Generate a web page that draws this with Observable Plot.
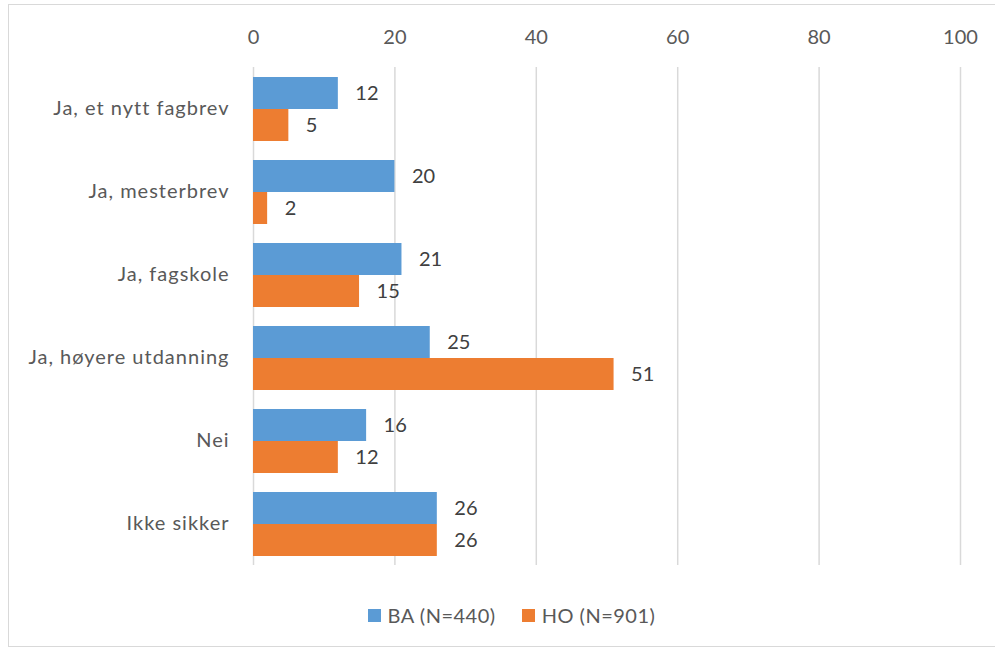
<!DOCTYPE html>
<html>
<head>
<meta charset="utf-8">
<script src="https://cdn.jsdelivr.net/npm/d3@7"></script>
<script src="https://cdn.jsdelivr.net/npm/@observablehq/plot@0.6"></script>
<style>
  html, body { margin: 0; padding: 0; background: #fff; }
  body { width: 995px; height: 651px; position: relative; overflow: hidden; font-family: Lato, sans-serif; }
  #frame { position: absolute; left: 8px; top: 4px; width: 1010px; height: 643px; border: 1.5px solid #d9d9d9; box-sizing: border-box; }
  #chart { position: absolute; left: 0; top: 0; }
  #chart [aria-label^="fy-axis"] text { letter-spacing: 1px; }
  #legend { position: absolute; left: 0; top: 595px; width: 995px; height: 40px; display: flex; justify-content: center; align-items: center; gap: 26px; font-size: 20px; letter-spacing: 0.5px; color: #595959; padding-left: 28px; box-sizing: border-box; }
  .item { display: flex; align-items: center; gap: 7px; }
  .sw { width: 13px; height: 13px; display: inline-block; }
</style>
</head>
<body>
<div id="frame"></div>
<div id="chart"></div>
<div id="legend"></div>
<script>
const categories = ["Ja, et nytt fagbrev", "Ja, mesterbrev", "Ja, fagskole", "Ja, høyere utdanning", "Nei", "Ikke sikker"];
const series = ["BA (N=440)", "HO (N=901)"];
const baValues = [12, 20, 21, 25, 16, 26];
const hoValues = [5, 2, 15, 51, 12, 26];
const xTicks = [0, 20, 40, 60, 80, 100];
const colors = ["#5b9bd5", "#ed7d31"];

const data = categories.flatMap((c, i) => [
  {category: c, series: series[0], value: baValues[i]},
  {category: c, series: series[1], value: hoValues[i]}
]);

const chart = Plot.plot({
  width: 995,
  height: 590,
  marginLeft: 253,
  marginRight: 35,
  marginTop: 67,
  marginBottom: 25,
  style: {fontFamily: "Lato, sans-serif", fontSize: "20px", color: "#595959", background: "transparent", overflow: "visible"},
  facet: {data: data, y: "category"},
  fy: {domain: categories, padding: 0, label: null, tickSize: 0, tickPadding: 24},
  x: {domain: [0, 100], ticks: xTicks, axis: "top", tickSize: 0, tickPadding: 24, label: null},
  y: {domain: series, axis: null, paddingInner: 0, paddingOuter: 0.26},
  color: {domain: series, range: colors},
  marks: [
    Plot.ruleX(xTicks, {stroke: "#d9d9d9", strokeWidth: 1.5, strokeOpacity: 1}),
    Plot.barX(data, {x: "value", y: "series", fill: "series"}),
    Plot.text(data, {x: "value", y: "series", text: d => String(d.value), dx: 17, textAnchor: "start", fill: "#404040", fontSize: 20})
  ]
});
document.getElementById("chart").appendChild(chart);

const legend = document.getElementById("legend");
series.forEach((s, i) => {
  const item = document.createElement("div");
  item.className = "item";
  const sw = document.createElement("span");
  sw.className = "sw";
  sw.style.background = colors[i];
  const label = document.createElement("span");
  label.textContent = s;
  item.appendChild(sw);
  item.appendChild(label);
  legend.appendChild(item);
});
</script>
</body>
</html>
